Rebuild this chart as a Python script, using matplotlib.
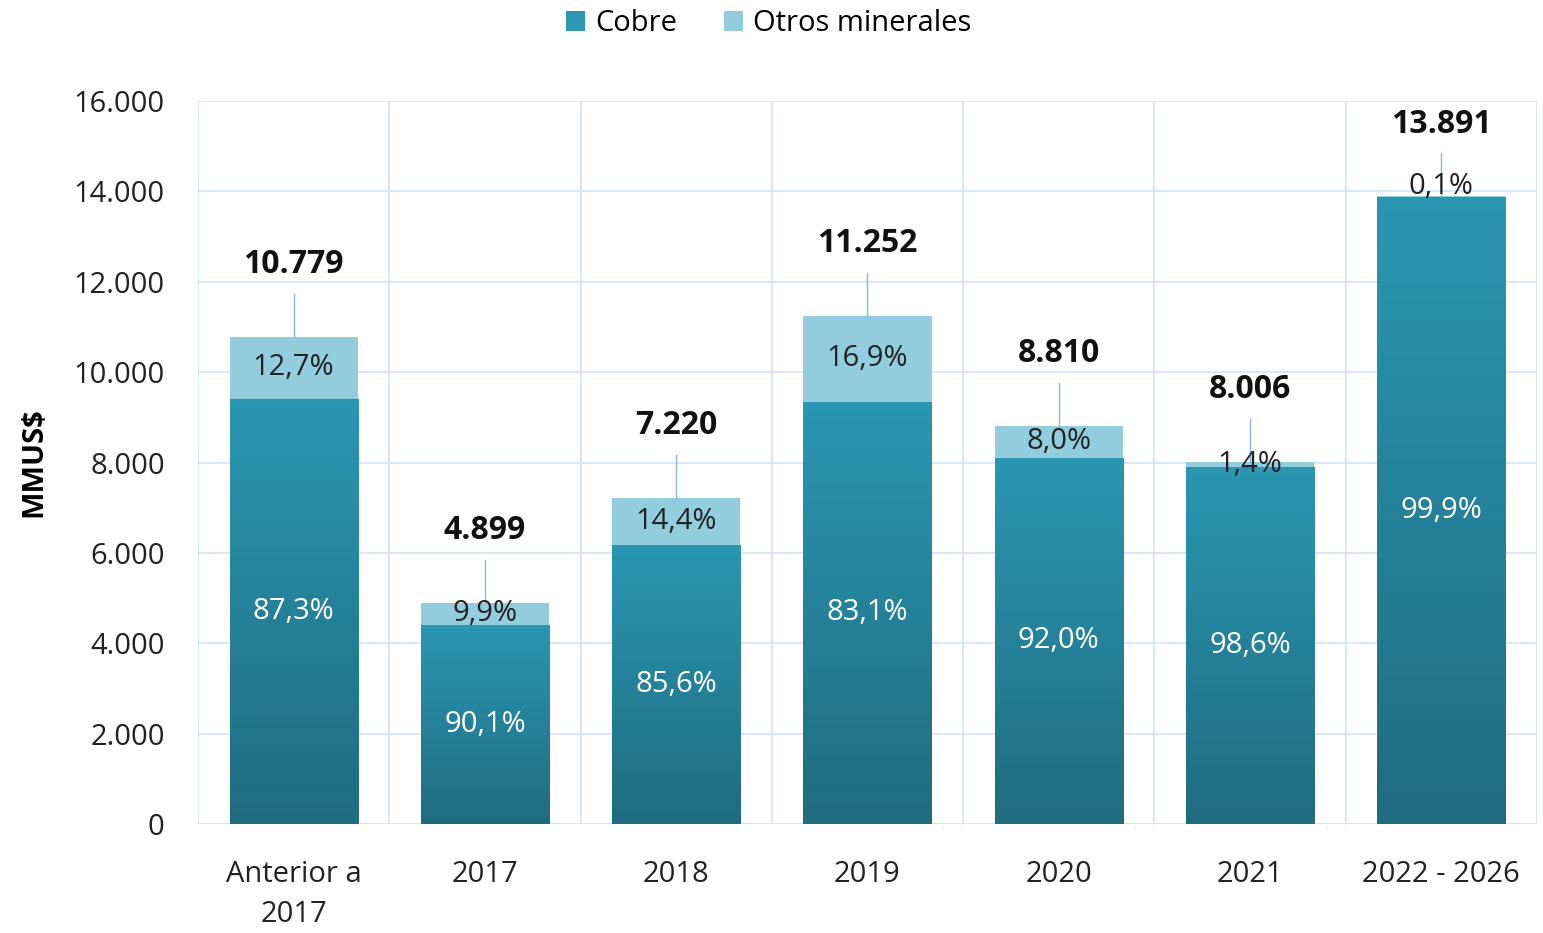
import numpy as np
import matplotlib
matplotlib.use("Agg")
import matplotlib.pyplot as plt
from matplotlib.colors import LinearSegmentedColormap

categories = ["Anterior a\n2017", "2017", "2018", "2019", "2020", "2021", "2022 - 2026"]
totals = [10779, 4899, 7220, 11252, 8810, 8006, 13891]
pct_cobre = [87.3, 90.1, 85.6, 83.1, 92.0, 98.6, 99.9]
pct_otros = [12.7, 9.9, 14.4, 16.9, 8.0, 1.4, 0.1]

plt.rcParams["font.family"] = ["Open Sans", "DejaVu Sans"]

COBRE_TOP = "#2b97b3"
COBRE_BOT = "#1f6c80"
OTROS = "#92cddd"
GRID = "#d6e2f2"
LEADER = "#8fb3e0"


def thousands(v):
    return f"{v:,}".replace(",", ".")


def pct(p):
    return f"{p:.1f}%".replace(".", ",")


totals_a = np.array(totals, dtype=float)
cobre = totals_a * np.array(pct_cobre) / 100
otros = totals_a - cobre
x = np.arange(len(categories))
width = 0.67

fig = plt.figure(figsize=(15.43, 9.33), dpi=100)
ax = fig.add_axes([0.1283, 0.1168, 0.8678, 0.7749])

cmap = LinearSegmentedColormap.from_list("cobre", [COBRE_BOT, COBRE_TOP])
grad = np.linspace(0, 1, 256).reshape(-1, 1)

bars_c = ax.bar(x, cobre, width, color=COBRE_TOP, zorder=2, label="Cobre")
bars_o = ax.bar(x, otros, width, bottom=cobre, color=OTROS, zorder=2, label="Otros minerales")

# gradient fill on copper segments
for b in bars_c:
    x0, y0 = b.get_x(), b.get_y()
    im = ax.imshow(grad, extent=(x0, x0 + b.get_width(), y0, y0 + b.get_height()),
                   origin="lower", cmap=cmap, aspect="auto", zorder=2.5)
    im.set_clip_path(b)

for i in range(len(categories)):
    # copper share
    ax.text(x[i], cobre[i] / 2, pct(pct_cobre[i]), ha="center", va="center",
            color="white", fontsize=21, zorder=4)
    # other minerals share
    if pct_otros[i] < 1:
        ax.text(x[i], totals_a[i] - 100, pct(pct_otros[i]), ha="center", va="bottom",
                color="#222222", fontsize=21, zorder=4)
    else:
        ax.text(x[i], cobre[i] + otros[i] / 2, pct(pct_otros[i]), ha="center", va="center",
                color="#222222", fontsize=21, zorder=4)
    # total with leader line
    ax.plot([x[i], x[i]], [totals_a[i], totals_a[i] + 950], color=LEADER, lw=1, zorder=3)
    ax.text(x[i], totals_a[i] + 1600, thousands(totals[i]), ha="center", va="center",
            fontsize=23, fontweight="bold", color="#111111", zorder=4)

ax.set_xlim(-0.5, len(categories) - 0.5)
ax.set_ylim(0, 16000)
ax.set_yticks(np.arange(0, 16001, 2000))
ax.set_yticklabels([thousands(v) for v in range(0, 16001, 2000)])
ax.set_xticks(x)
ax.set_xticklabels(categories, linespacing=1.5)
ax.set_xticks(np.arange(-0.5, len(categories), 1), minor=True)
ax.tick_params(axis="both", which="both", length=0, labelsize=21, colors="#222222")
ax.tick_params(axis="y", pad=24)
ax.tick_params(axis="x", pad=26)
ax.grid(axis="y", which="major", color=GRID, lw=1.2, zorder=0)
ax.grid(axis="x", which="minor", color=GRID, lw=1.2, zorder=0)
for s in ax.spines.values():
    s.set_visible(False)
ax.axhline(0, color=GRID, lw=1.2, zorder=1)

ax.set_ylabel("MMUS$", fontsize=21, fontweight="bold", labelpad=18)

fig.legend(handles=[bars_c, bars_o], loc="upper center", bbox_to_anchor=(0.498, 1.018),
           ncol=2, frameon=False, fontsize=21, handlelength=0.65, handleheight=0.65,
           columnspacing=1.6, handletextpad=0.35)

fig.savefig("out.png", dpi=100)
